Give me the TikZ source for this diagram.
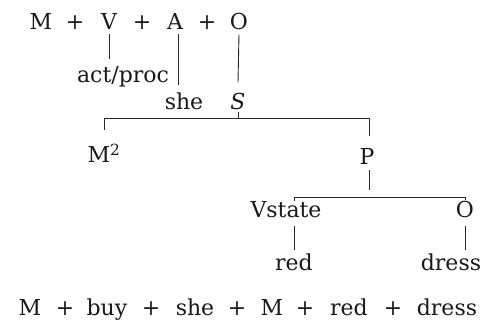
\documentclass[tikz,border=0pt]{standalone}
\usepackage{fontspec}
\setmainfont{DejaVu Serif}
\begin{document}
\begin{tikzpicture}[
  x=1pt, y=-1pt,
  sym/.style={anchor=base, inner sep=1pt, font=\fontsize{22}{26}\selectfont, text=black!90},
  lnk/.style={draw=black!85, line width=0.9pt}
]
\useasboundingbox (0,0) rectangle (483,329);

% Top formula
\node[sym] (tM) at (41,30) {M};
\node[sym] (tp1) at (75,30) {+};
\node[sym] (tV) at (109,30) {V};
\node[sym] (tp2) at (142,30) {+};
\node[sym] (tA) at (175,30) {A};
\node[sym] (tp3) at (207,30) {+};
\node[sym] (tO) at (239,30) {O};

% Feature labels
\node[sym] (act) at (123,83) {act/proc};
\node[sym] (she) at (184,110) {she};
\node[sym] (S) at (238,110) {\textit{S}};

\draw[lnk] ([yshift=-3pt]tV.south) -- ([yshift=7pt]tV.south |- act.north);
\draw[lnk] ([xshift=3pt,yshift=-3pt]tA.south) coordinate (aS) -- ([yshift=7pt]aS |- she.north);
\draw[lnk] ([yshift=-3pt]tO.south) -- ([yshift=10pt]S.north);

% Level 1: M2 / P
\node[sym] (M2) at (104,163) {M\textsuperscript{2}};
\node[sym] (P) at (367,165) {P};
\coordinate (sj) at (238,118);

\draw[lnk] (S.south) -- (sj);
\draw[lnk] (M2.north |- sj) -- ([xshift=2pt]P.north |- sj);
\draw[lnk, shorten >=13pt] (M2.north |- sj) -- (M2.north);
\draw[lnk, shorten >=12pt] ([xshift=2pt]P.north |- sj) -- ([xshift=2pt]P.north);

% Level 2: Vstate / O
\node[sym] (Vst) at (286,218) {Vstate};
\node[sym] (O2) at (465,218) {O};
\node[sym] (red) at (294,270) {red};
\node[sym] (dress) at (451,270) {dress};
\coordinate (pj) at (369,197);

\draw[lnk, shorten >=7pt] ([xshift=2pt,yshift=-4pt]P.south) -- (pj);
\draw[lnk] (red.north |- pj) -- (O2.north |- pj);
\draw[lnk] (red.north |- pj) -- (red.north |- Vst.north);
\draw[lnk] (O2.north |- pj) -- (O2.north);
\draw[lnk] ([yshift=-6pt]red.north |- Vst.south) -- ([yshift=2pt]red.north);
\draw[lnk] ([yshift=-6pt]O2.south) -- ([yshift=2pt]O2.south |- dress.north);

% Bottom formula
\node[sym] (bM) at (30,316) {M};
\node[sym] (bp1) at (65,316) {+};
\node[sym] (buy) at (107,316) {buy};
\node[sym] (bp2) at (151,316) {+};
\node[sym] (bshe) at (195,316) {she};
\node[sym] (bp3) at (237,316) {+};
\node[sym] (bM2) at (272,316) {M};
\node[sym] (bp4) at (305,316) {+};
\node[sym] (bred) at (349,316) {red};
\node[sym] (bp5) at (393,316) {+};
\node[sym] (bdress) at (447,316) {dress};
\end{tikzpicture}
\end{document}
